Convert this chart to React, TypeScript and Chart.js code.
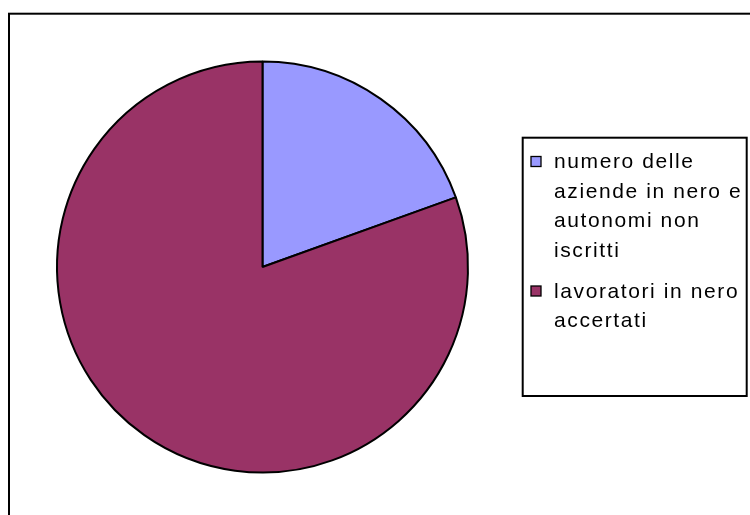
import { useEffect, useRef } from "react";
import { Chart, registerables } from "chart.js";

Chart.register(...registerables);

// Data
const categories: string[][] = [
  ["numero delle", "aziende in nero e", "autonomi non", "iscritti"],
  ["lavoratori in nero", "accertati"],
];
const values: number[] = [195, 805];
const colors: string[] = ["#9999FF", "#993366"];

const W = 750;
const H = 515;

const framePlugin = {
  id: "frameAndLegend",
  beforeDraw(chart: any) {
    const ctx = chart.ctx as CanvasRenderingContext2D;
    ctx.save();
    ctx.fillStyle = "#ffffff";
    ctx.fillRect(0, 0, chart.width, chart.height);
    ctx.strokeStyle = "#000000";
    ctx.lineWidth = 2;
    ctx.strokeRect(9, 13.7, chart.width + 40, chart.height + 40);
    ctx.restore();
  },
  afterDraw(chart: any) {
    const ctx = chart.ctx as CanvasRenderingContext2D;
    ctx.save();
    // legend box
    ctx.strokeStyle = "#000000";
    ctx.lineWidth = 2;
    ctx.strokeRect(522.7, 137.7, 224, 258.3);

    ctx.font = '21px "Liberation Sans", Arial, sans-serif';
    (ctx as any).letterSpacing = "1.6px";
    ctx.textBaseline = "alphabetic";
    ctx.textAlign = "left";
    const lineH = 29.5;
    const itemGap = 11.5;
    let baseline = 168;
    const labels = chart.data.labels as string[][];
    const bg = chart.data.datasets[0].backgroundColor as string[];
    labels.forEach((lines, i) => {
      const sqY = baseline - 11.5;
      ctx.fillStyle = bg[i];
      ctx.fillRect(531, sqY, 10, 10);
      ctx.lineWidth = 1.3;
      ctx.strokeStyle = "#000000";
      ctx.strokeRect(531, sqY, 10, 10);
      ctx.fillStyle = "#000000";
      lines.forEach((ln, j) => {
        ctx.fillText(ln, 554, baseline + j * lineH);
      });
      baseline += lines.length * lineH + itemGap;
    });
    ctx.restore();
  },
};

export default function App() {
  const ref = useRef<HTMLCanvasElement>(null);
  useEffect(() => {
    document.documentElement.style.overflow = "hidden";
    const canvas = ref.current!;
    const chart = new Chart(canvas, {
      type: "pie",
      data: {
        labels: categories as any,
        datasets: [
          {
            data: values,
            backgroundColor: colors,
            borderColor: "#000000",
            borderWidth: 2,
          },
        ],
      },
      options: {
        responsive: false,
        animation: false,
        devicePixelRatio: 1,
        layout: {
          padding: { left: 56, top: 60.5, right: 281, bottom: 41.5 },
        },
        plugins: {
          legend: { display: false },
          tooltip: { enabled: false },
          title: { display: false },
        },
      },
      plugins: [framePlugin],
    });
    return () => chart.destroy();
  }, []);
  return (
    <div style={{ position: "fixed", left: 0, top: 0, width: W, height: H }}>
      <canvas ref={ref} width={W} height={H} style={{ display: "block", width: W, height: H }} />
    </div>
  );
}
